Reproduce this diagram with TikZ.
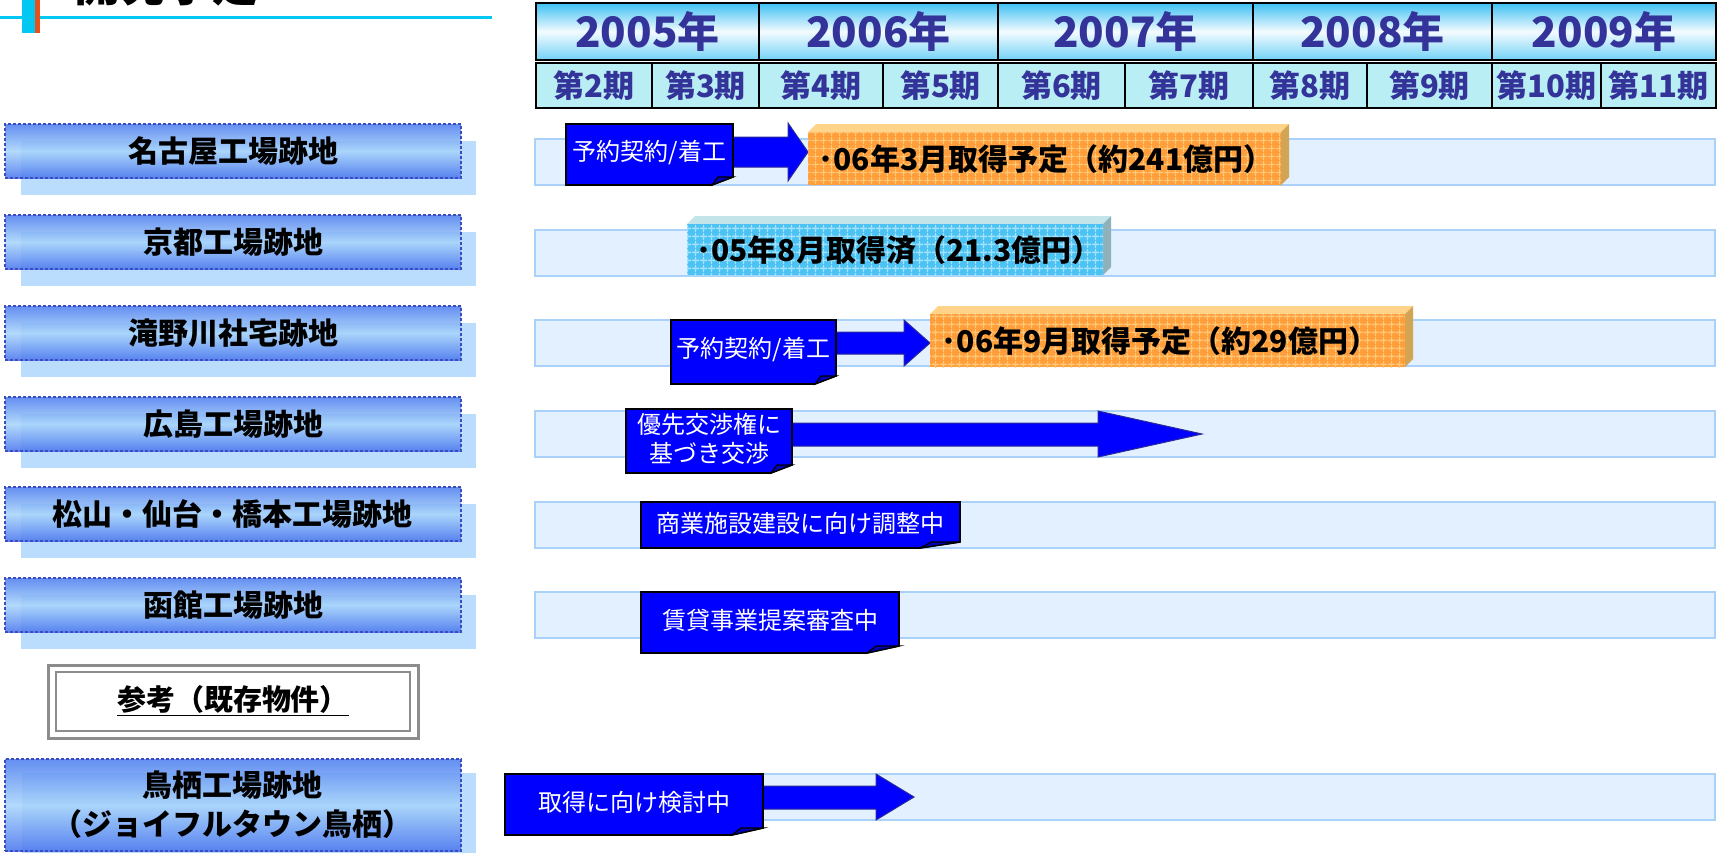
\documentclass[tikz,border=0pt]{standalone}
\usepackage{fontspec}
\setmainfont{Noto Sans CJK JP}
\usetikzlibrary{patterns.meta}
\definecolor{titlecyan}{HTML}{00C8F2}
\definecolor{titleorange}{HTML}{E8501A}
\definecolor{labtop}{HTML}{4F7FEF}
\definecolor{labmid}{HTML}{A8D4FB}
\definecolor{labbot}{HTML}{4A76EE}
\definecolor{labborder}{HTML}{3A4CBF}
\definecolor{shadowblue}{HTML}{BBDDFD}
\definecolor{barfill}{HTML}{E2F0FF}
\definecolor{barline}{HTML}{A9D1F9}
\definecolor{yeartop}{HTML}{3EC0F2}
\definecolor{yearmid}{HTML}{F4FBFF}
\definecolor{yearbot}{HTML}{72D2F6}
\definecolor{qfill}{HTML}{B9EEF4}
\definecolor{hdrtext}{HTML}{333399}
\definecolor{callblue}{HTML}{0000FF}
\definecolor{arrowline}{HTML}{2A2A9A}
\definecolor{orfront}{HTML}{FF9E3A}
\definecolor{orgrid}{HTML}{FFC878}
\definecolor{ortop}{HTML}{FFD48A}
\definecolor{orside}{HTML}{D2A555}
\definecolor{blfront}{HTML}{4CC2F2}
\definecolor{blgrid}{HTML}{A2E2FF}
\definecolor{bltop}{HTML}{C3E5E9}
\definecolor{blside}{HTML}{8FB2BA}
\definecolor{refgray}{HTML}{8C8C8C}
\tikzset{
  labelbox/.style={draw=labborder, dash pattern=on 1.5pt off 1pt, line width=0.6pt,
    top color=labtop, bottom color=labbot, middle color=labmid,
    minimum width=228pt, minimum height=27pt, inner sep=0pt,
    font=\bfseries\fontsize{15}{17}\selectfont, text=black},
  yearcell/.style={draw=black, line width=1pt, top color=yeartop, bottom color=yearbot,
    middle color=yearmid, minimum height=28.5pt, inner sep=0pt,
    font=\bfseries\fontsize{21}{23}\selectfont, text=hdrtext},
  qcell/.style={draw=black, line width=1pt, fill=qfill, minimum height=22.5pt, inner sep=0pt,
    font=\bfseries\fontsize{15.5}{17}\selectfont, text=hdrtext},
  bar/.style={draw=barline, line width=0.75pt, fill=barfill, minimum width=590pt,
    minimum height=23pt, inner sep=0pt},
  callfill/.style={fill=callblue, draw=black, line width=0.8pt, line join=miter},
  calltext/.style={text=white, font=\fontsize{12}{14.5}\selectfont, align=center, inner sep=0pt},
  arrowst/.style={fill=callblue, draw=arrowline, line width=0.5pt},
  cubetext/.style={font=\bfseries\fontsize{15}{17}\selectfont, text=black, inner sep=0pt}
}
\newcommand\mycallout[8]{%
  \filldraw[callfill] (#2,#3) -- (#4,#3) -- (#4,#5-#7) -- (#4-#6,#5) -- (#2,#5) -- cycle;
  \filldraw[fill=blue!70!black, draw=black, line width=0.6pt] (#4-#6,#5) -- (#4-#6*0.72,#5-#7) -- (#4,#5-#7) -- cycle;
  \node[calltext] (#1) at ({(#2+#4)/2},{(#3+#5)/2-2}) {#8};}
\newcommand\myarrow[7]{%
  \filldraw[arrowst] (#1,#2) -- (#4,#2) -- (#4,#5) -- (#7,{(#5+#6)/2}) -- (#4,#6) -- (#4,#3) -- (#1,#3) -- cycle;}
\newcommand\mycube[9]{%
  \fill[#8] (#1,#2) -- (#1+#5,#2-#5) -- (#3+#5,#2-#5) -- (#3,#2) -- cycle;
  \fill[#9] (#3,#2) -- (#3+#5,#2-#5) -- (#3+#5,#4-#5) -- (#3,#4) -- cycle;
  \fill[#6] (#1,#2) rectangle (#3,#4);
  \fill[pattern={Hatch[angle=0,distance=4pt,line width=0.7pt]}, pattern color=#7] (#1,#2) rectangle (#3,#4);}
\begin{document}
\begin{tikzpicture}[x=0.5pt,y=-0.5pt]
\useasboundingbox (0,0) rectangle (1725,852);
% title (cut off at the top)
\node[anchor=base, font=\bfseries\fontsize{23}{23}\selectfont, inner sep=0pt] (title) at (166,1) {開発予定};
\fill[titlecyan] (0,16) rectangle (492,19);
\fill[titlecyan] (22,0) rectangle (35,33);
\fill[titleorange] (35,0) rectangle (40,33);
% header: years
\node[yearcell, minimum width=111.5pt] (Y5) at (647.5,31.5) {2005年};
\node[yearcell, minimum width=119.5pt] (Y6) at (878.5,31.5) {2006年};
\node[yearcell, minimum width=127.5pt] (Y7) at (1125.5,31.5) {2007年};
\node[yearcell, minimum width=119.5pt] (Y8) at (1372.5,31.5) {2008年};
\node[yearcell, minimum width=112pt] (Y9) at (1604,31.5) {2009年};
% header: periods
\node[qcell, minimum width=58pt] (Q2) at (594,85.5) {第2期};
\node[qcell, minimum width=53.5pt] (Q3) at (705.5,85.5) {第3期};
\node[qcell, minimum width=62pt] (Q4) at (821,85.5) {第4期};
\node[qcell, minimum width=57.5pt] (Q5) at (940.5,85.5) {第5期};
\node[qcell, minimum width=63.5pt] (Q6) at (1061.5,85.5) {第6期};
\node[qcell, minimum width=64pt] (Q7) at (1189,85.5) {第7期};
\node[qcell, minimum width=57pt] (Q8) at (1310,85.5) {第8期};
\node[qcell, minimum width=62.5pt] (Q9) at (1429.5,85.5) {第9期};
\node[qcell, minimum width=54.5pt] (Q10) at (1546.5,85.5) {第10期};
\node[qcell, minimum width=57.5pt] (Q11) at (1658.5,85.5) {第11期};
% row labels
\foreach \i/\y/\t in {1/151/名古屋工場跡地, 2/242/京都工場跡地, 3/333/滝野川社宅跡地,
  4/424/広島工場跡地, 5/514/松山・仙台・橋本工場跡地, 6/605/函館工場跡地}{
  \fill[shadowblue] (21,\y-10) rectangle ++(455,54);
  \node[labelbox, fill opacity=0.88, text opacity=1] (L\i) at (233,\y) {\t};
}
\fill[shadowblue] (22,773) rectangle (476,866);
\node[labelbox, fill opacity=0.88, text opacity=1, minimum height=46pt, align=center,
  font=\bfseries\fontsize{15}{19.5}\selectfont] (L8) at (233,805) {鳥栖工場跡地\\（ジョイフルタウン鳥栖）};
% reference box
\draw[refgray, line width=1.5pt] (48,665) rectangle (418,738);
\draw[refgray, line width=0.6pt] (56,672) rectangle (410,731);
\node[font=\bfseries\fontsize{14.5}{16}\selectfont, inner sep=0pt] (ref) at (233,701) {\underline{参考（既存物件）}};
% timeline bars
\foreach \i/\y in {1/162, 2/253, 3/343, 4/434, 5/525, 6/615, 8/797}{
  \node[bar] (B\i) at (1125,\y) {};
}
% arrows
\myarrow{720}{137}{167}{788}{123}{181}{808}
\myarrow{820}{332}{354}{904}{320}{366}{930}
\myarrow{780}{423}{446}{1098}{411}{457}{1202}
\myarrow{750}{786}{809}{876}{774}{820}{914}
% 3D boxes
\mycube{808}{132}{1281}{185}{8}{orfront}{orgrid}{ortop}{orside}
\node[cubetext] (K1) at (1046,159) {･06年3月取得予定（約241億円）};
\mycube{687}{224}{1103}{275}{8}{blfront}{blgrid}{bltop}{blside}
\node[cubetext] (K2) at (899,250) {･05年8月取得済（21.3億円）};
\mycube{930}{314}{1405}{367}{8}{orfront}{orgrid}{ortop}{orside}
\node[cubetext] (K3) at (1160,341) {･06年9月取得予定（約29億円）};
% callouts
\mycallout{C1}{566}{124}{733}{185}{21}{8}{予約契約/着工}
\mycallout{C3}{671}{320}{836}{384}{21}{8}{予約契約/着工}
\mycallout{C4}{626}{409}{792}{473}{21}{8}{優先交渉権に\\基づき交渉}
\mycallout{C5}{641}{502}{960}{548}{40}{6}{商業施設建設に向け調整中}
\mycallout{C6}{641}{592}{899}{653}{32}{7}{賃貸事業提案審査中}
\mycallout{C8}{505}{774}{763}{835}{31}{7}{取得に向け検討中}
\end{tikzpicture}
\end{document}
